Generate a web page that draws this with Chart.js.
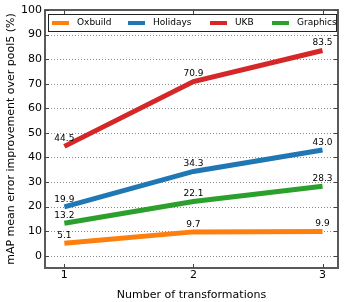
<!DOCTYPE html>
<html>
<head>
<meta charset="utf-8">
<script src="https://cdn.jsdelivr.net/npm/chart.js@4"></script>
<style>
  body { margin: 0; background: #fff; }
  #chart { display: block; }
</style>
</head>
<body>
<canvas id="chart" width="349" height="302"></canvas>
<script>
const transformations = [1, 2, 3];
const oxbuild = [5.1, 9.7, 9.9];
const holidays = [19.9, 34.3, 43.0];
const ukb = [44.5, 70.9, 83.5];
const graphics = [13.2, 22.1, 28.3];
const yTicks = [0, 10, 20, 30, 40, 50, 60, 70, 80, 90, 100];

const seriesNames = ['Oxbuild', 'Holidays', 'UKB', 'Graphics'];
const seriesColors = ['#ff7f0e', '#1f77b4', '#d62728', '#2ca02c'];
const seriesValues = [oxbuild, holidays, ukb, graphics];

const FONT = "'DejaVu Sans', sans-serif";

// dotted horizontal grid
const grid = {
    id: 'dottedGrid',
    beforeDatasetsDraw(chart) {
        const ctx = chart.ctx;
        const a = chart.chartArea;
        const ys = chart.scales.y;
        ctx.save();
        ctx.strokeStyle = '#8a8a8a';
        ctx.lineWidth = 1;
        ctx.setLineDash([1, 2]);
        yTicks.forEach(v => {
            const py = Math.round(ys.getPixelForValue(v)) + 0.5;
            ctx.beginPath();
            ctx.moveTo(a.left, py);
            ctx.lineTo(a.right, py);
            ctx.stroke();
        });
        ctx.restore();
    }
};

// frame, inner ticks, legend box and value labels
const extras = {
    id: 'extras',
    afterDatasetsDraw(chart) {
        const ctx = chart.ctx;
        const a = chart.chartArea;
        const xs = chart.scales.x;
        const ys = chart.scales.y;
        ctx.save();

        // value labels
        ctx.font = '9px ' + FONT;
        ctx.fillStyle = '#000';
        ctx.textAlign = 'center';
        ctx.textBaseline = 'bottom';
        chart.data.datasets.forEach(ds => {
            ds.data.forEach(p => {
                ctx.fillText(p.y.toFixed(1), xs.getPixelForValue(p.x), ys.getPixelForValue(p.y) - 3);
            });
        });

        // frame
        ctx.strokeStyle = '#5a5a5a';
        ctx.lineWidth = 2;
        ctx.strokeRect(a.left, a.top, a.right - a.left, a.bottom - a.top);

        // inward ticks
        ctx.lineWidth = 1;
        ctx.strokeStyle = '#444';
        transformations.forEach(v => {
            const px = Math.round(xs.getPixelForValue(v)) + 0.5;
            ctx.beginPath();
            ctx.moveTo(px, a.bottom); ctx.lineTo(px, a.bottom - 4);
            ctx.moveTo(px, a.top); ctx.lineTo(px, a.top + 4);
            ctx.stroke();
        });
        yTicks.forEach(v => {
            const py = Math.round(ys.getPixelForValue(v)) + 0.5;
            ctx.beginPath();
            ctx.moveTo(a.left, py); ctx.lineTo(a.left + 4, py);
            ctx.moveTo(a.right, py); ctx.lineTo(a.right - 4, py);
            ctx.stroke();
        });

        // legend
        const bx = a.left + 3, by = a.top + 4, bw = a.right - a.left - 5, bh = 17;
        ctx.fillStyle = '#fff';
        ctx.fillRect(bx, by, bw, bh);
        ctx.strokeStyle = '#222';
        ctx.lineWidth = 1;
        ctx.strokeRect(bx + 0.5, by + 0.5, bw, bh);
        const swatchX = [52, 128, 210, 272];
        ctx.font = '9px ' + FONT;
        ctx.textAlign = 'left';
        ctx.textBaseline = 'middle';
        seriesNames.forEach((name, i) => {
            const cy = by + bh / 2 + 0.5;
            ctx.fillStyle = seriesColors[i];
            ctx.fillRect(swatchX[i], cy - 2, 17, 4);
            ctx.fillStyle = '#000';
            ctx.fillText(name, swatchX[i] + 25, cy);
        });
        ctx.restore();
    }
};

new Chart(document.getElementById('chart'), {
    type: 'line',
    data: {
        datasets: seriesNames.map((name, i) => ({
            label: name,
            data: transformations.map((x, j) => ({x: x, y: seriesValues[i][j]})),
            borderColor: seriesColors[i],
            backgroundColor: seriesColors[i],
            borderWidth: 5,
            pointRadius: 0,
            tension: 0,
            borderCapStyle: 'butt'
        }))
    },
    options: {
        responsive: false,
        animation: false,
        layout: {padding: {top: 10, right: 11, left: 0, bottom: 0}},
        plugins: {
            legend: {display: false},
            tooltip: {enabled: false}
        },
        scales: {
            x: {
                type: 'linear',
                min: 0.85,
                max: 3.12,
                afterBuildTicks: s => { s.ticks = transformations.map(v => ({value: v})); },
                afterFit: s => { s.height = 34; },
                grid: {display: false, drawTicks: false},
                border: {display: false},
                ticks: {color: '#000', font: {family: FONT, size: 11}, padding: 1},
                title: {display: true, text: 'Number of transformations', color: '#000',
                        font: {family: FONT, size: 11}, padding: {top: 2, bottom: 0}}
            },
            y: {
                min: -5,
                max: 100,
                afterBuildTicks: s => { s.ticks = yTicks.map(v => ({value: v})); },
                afterFit: s => { s.width = 45; },
                grid: {display: false, drawTicks: false},
                border: {display: false},
                ticks: {color: '#000', font: {family: FONT, size: 11}, padding: 3},
                title: {display: true, text: 'mAP mean error improvement over pool5 (%)', color: '#000',
                        font: {family: FONT, size: 11}, padding: {top: 5, bottom: 0}}
            }
        }
    },
    plugins: [grid, extras]
});
</script>
</body>
</html>
